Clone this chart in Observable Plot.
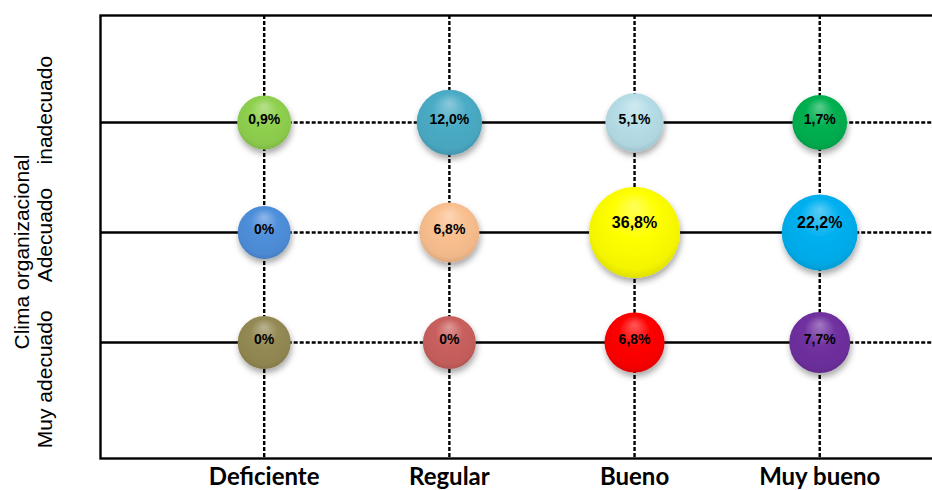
<!DOCTYPE html>
<html><head><meta charset="utf-8">
<script src="https://cdn.jsdelivr.net/npm/d3@7"></script>
<script src="https://cdn.jsdelivr.net/npm/@observablehq/plot@0.6"></script>
<style>
body{margin:0;background:#fff;}
#chart svg{display:block;overflow:visible;background:#fff}
</style></head><body><div id="chart"></div>
<script>
// ---- data ----
const levels = ["Deficiente", "Regular", "Bueno", "Muy bueno"];
const climate = ["inadecuado", "Adecuado", "Muy adecuado"]; // top to bottom
const valInadecuado = [0.9, 12.0, 5.1, 1.7];
const valAdecuado = [0, 6.8, 36.8, 22.2];
const valMuyAdecuado = [0, 0, 6.8, 7.7];
const colInadecuado = ["#8FD14F", "#4BACC6", "#B7DEE8", "#00B050"];
const colAdecuado = ["#4F8FDB", "#FAC090", "#FFFF00", "#00B0F0"];
const colMuyAdecuado = ["#948A54", "#C9605E", "#FF0000", "#7030A0"];
const yTitle = "Clima organizacional";
const yCats = "Muy adecuado     Adecuado    inadecuado";

const values = [valInadecuado, valAdecuado, valMuyAdecuado];
const colors = [colInadecuado, colAdecuado, colMuyAdecuado];
const data = climate.flatMap((row, r) => levels.map((lv, i) => ({
  row, level: lv, xi: i, value: values[r][i], color: colors[r][i], id: `g${r}${i}`
})));
const fmt = v => v === 0 ? "0%" : v.toFixed(1).replace(".", ",") + "%";

const xDomain = [-0.884, 3.609];
const last = levels.length - 1;
const solid = {stroke: "#000", strokeWidth: 2.4};
const dashed = {stroke: "#000", strokeWidth: 2.4, strokeDasharray: "4,2"};

const plot = Plot.plot({
  width: 932, height: 490,
  marginLeft: 100, marginRight: 0, marginTop: 15, marginBottom: 32,
  x: {type: "linear", domain: xDomain, axis: null},
  y: {type: "point", domain: climate, padding: 1, align: 0.48, axis: null},
  r: {type: "linear", domain: [0, 36.8], range: [26.5, 45.5]},
  color: {type: "identity"},
  marks: [
    Plot.ruleX(levels.map((d, i) => i), {x: d => d, stroke: "#000", strokeWidth: 2.4, strokeDasharray: "4,2"}),
    Plot.ruleY(climate, {y: d => d, x1: () => xDomain[0], x2: () => 0, ...solid}),
    Plot.ruleY(climate, {y: d => d, x1: () => 0, x2: () => 1, ...dashed}),
    Plot.ruleY(climate, {y: d => d, x1: () => 1, x2: () => last, ...solid}),
    Plot.ruleY(climate, {y: d => d, x1: () => last, x2: () => xDomain[1], ...dashed}),
    Plot.frame({stroke: "#000", strokeWidth: 2.4, insetRight: -4}),
    Plot.dot(data, {x: "xi", y: "row", r: "value", fill: d => `url(#${d.id})`, stroke: "none"}),
    Plot.text(data, {filter: d => d.value < 20, x: "xi", y: "row", text: d => fmt(d.value),
      fontSize: 14, fontWeight: "bold", fontFamily: "Liberation Sans, Arial, sans-serif", fill: "#000", dy: -3}),
    Plot.text(data, {filter: d => d.value >= 20, x: "xi", y: "row", text: d => fmt(d.value),
      fontSize: 16, fontWeight: "bold", fontFamily: "Liberation Sans, Arial, sans-serif", fill: "#000", dy: -10}),
    Plot.text(levels, {x: (d, i) => i, text: d => d, frameAnchor: "bottom", dy: 26,
      fontSize: 24, fontWeight: "bold", fontFamily: "Lato, sans-serif", fill: "#000"})
  ]
});
document.getElementById("chart").appendChild(plot);

const svg = d3.select(plot);
const defs = svg.insert("defs", ":first-child");
const f = defs.append("filter").attr("id", "shadow")
  .attr("x", "-40%").attr("y", "-40%").attr("width", "180%").attr("height", "190%");
f.append("feDropShadow").attr("dx", 1).attr("dy", 4).attr("stdDeviation", 3)
  .attr("flood-color", "#000").attr("flood-opacity", 0.35);
data.forEach(d => {
  const base = d3.color(d.color);
  const light = d3.interpolateRgb(d.color, "#fff")(0.35);
  const dark = base.darker(0.45).formatHex();
  const mid = base.darker(0.12).formatHex();
  const g = defs.append("radialGradient").attr("id", d.id)
    .attr("cx", "50%").attr("cy", "45%").attr("r", "58%").attr("fx", "50%").attr("fy", "20%");
  g.append("stop").attr("offset", "0%").attr("stop-color", light);
  g.append("stop").attr("offset", "45%").attr("stop-color", d.color);
  g.append("stop").attr("offset", "85%").attr("stop-color", mid);
  g.append("stop").attr("offset", "100%").attr("stop-color", dark);
});
svg.selectAll('g[aria-label="dot"] circle').attr("filter", "url(#shadow)");

const lab = svg.append("g")
  .attr("font-family", "Liberation Sans, Arial, sans-serif")
  .attr("font-size", 21).attr("text-anchor", "middle").attr("fill", "#000");
lab.append("text").attr("transform", "translate(29,252) rotate(-90)").text(yTitle);
lab.append("text").attr("transform", "translate(52,252) rotate(-90)")
  .style("white-space", "pre").text(yCats);
</script></body></html>
